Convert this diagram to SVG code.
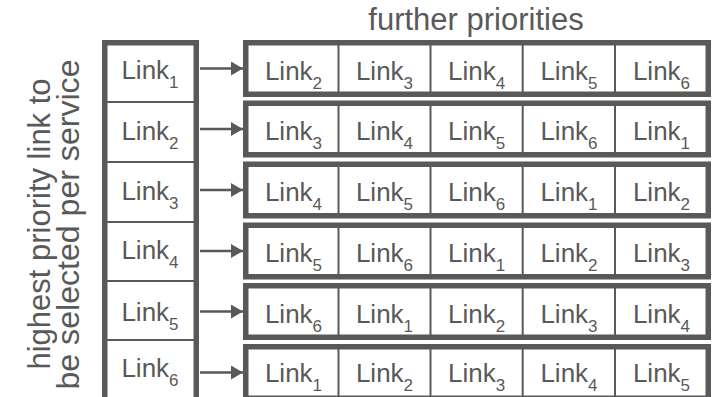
<svg xmlns="http://www.w3.org/2000/svg" width="716" height="397" viewBox="0 0 716 397">
  <style>
    .frame { fill: #ffffff; stroke: #595959; stroke-width: 5.5; }
    .div { stroke: #595959; stroke-width: 2; }
    .lbl { font-family: "Liberation Sans", Arial, sans-serif; font-size: 26px; fill: #595959; text-anchor: middle; }
    .sub { font-size: 17px; }
    .cap { font-family: "Liberation Sans", Arial, sans-serif; font-size: 31px; fill: #595959; text-anchor: middle; }
    .arrow { stroke: #595959; stroke-width: 2.5; fill: none; }
  </style>
  <defs>
    <marker id="head" markerUnits="userSpaceOnUse" markerWidth="13" markerHeight="15" refX="12" refY="7" orient="auto">
      <path d="M0,0 L12,7 L0,14 Z" fill="#595959"/>
    </marker>
  </defs>

  <rect width="716" height="397" fill="#ffffff"/>

  <!-- axis captions -->
  <g id="captions">
    <text class="cap" x="476" y="30">further priorities</text>
    <text class="cap" transform="translate(50,224) rotate(-90)">highest priority link to</text>
    <text class="cap" transform="translate(79,224.5) rotate(-90)" textLength="330" lengthAdjust="spacingAndGlyphs">be selected per service</text>
  </g>

  <!-- first-choice column -->
  <g id="first-choice">
    <rect class="frame" x="104.75" y="42.75" width="91.5" height="360"/>
    <line class="div" x1="107" y1="102" x2="194" y2="102"/>
    <line class="div" x1="107" y1="162" x2="194" y2="162"/>
    <line class="div" x1="107" y1="222" x2="194" y2="222"/>
    <line class="div" x1="107" y1="281" x2="194" y2="281"/>
    <line class="div" x1="107" y1="340" x2="194" y2="340"/>
    <text class="lbl" x="150" y="79">Link<tspan class="sub" dy="9">1</tspan></text>
    <text class="lbl" x="150" y="140">Link<tspan class="sub" dy="9">2</tspan></text>
    <text class="lbl" x="150" y="200">Link<tspan class="sub" dy="9">3</tspan></text>
    <text class="lbl" x="150" y="259">Link<tspan class="sub" dy="9">4</tspan></text>
    <text class="lbl" x="150" y="321">Link<tspan class="sub" dy="9">5</tspan></text>
    <text class="lbl" x="150" y="377">Link<tspan class="sub" dy="9">6</tspan></text>
  </g>

  <!-- connectors -->
  <g id="connectors">
    <line class="arrow" x1="200" y1="68.5" x2="243" y2="68.5" marker-end="url(#head)"/>
    <line class="arrow" x1="200" y1="129" x2="243" y2="129" marker-end="url(#head)"/>
    <line class="arrow" x1="200" y1="190" x2="243" y2="190" marker-end="url(#head)"/>
    <line class="arrow" x1="200" y1="251" x2="243" y2="251" marker-end="url(#head)"/>
    <line class="arrow" x1="200" y1="311.5" x2="243" y2="311.5" marker-end="url(#head)"/>
    <line class="arrow" x1="200" y1="372.5" x2="243" y2="372.5" marker-end="url(#head)"/>
  </g>

  <!-- priority rows -->
  <g id="row1">
    <rect class="frame" x="245.75" y="42.75" width="462.5" height="51.5"/>
    <line class="div" x1="338.5" y1="45" x2="338.5" y2="92"/>
    <line class="div" x1="430.5" y1="45" x2="430.5" y2="92"/>
    <line class="div" x1="522.7" y1="45" x2="522.7" y2="92"/>
    <line class="div" x1="615" y1="45" x2="615" y2="92"/>
    <text class="lbl" x="293.5" y="79.5">Link<tspan class="sub" dy="9">2</tspan></text>
    <text class="lbl" x="384.5" y="79.5">Link<tspan class="sub" dy="9">3</tspan></text>
    <text class="lbl" x="476.6" y="79.5">Link<tspan class="sub" dy="9">4</tspan></text>
    <text class="lbl" x="569" y="79.5">Link<tspan class="sub" dy="9">5</tspan></text>
    <text class="lbl" x="661.5" y="79.5">Link<tspan class="sub" dy="9">6</tspan></text>
  </g>
  <g id="row2">
    <rect class="frame" x="245.75" y="103.25" width="462.5" height="51.5"/>
    <line class="div" x1="338.5" y1="105.5" x2="338.5" y2="152.5"/>
    <line class="div" x1="430.5" y1="105.5" x2="430.5" y2="152.5"/>
    <line class="div" x1="522.7" y1="105.5" x2="522.7" y2="152.5"/>
    <line class="div" x1="615" y1="105.5" x2="615" y2="152.5"/>
    <text class="lbl" x="293.5" y="140">Link<tspan class="sub" dy="9">3</tspan></text>
    <text class="lbl" x="384.5" y="140">Link<tspan class="sub" dy="9">4</tspan></text>
    <text class="lbl" x="476.6" y="140">Link<tspan class="sub" dy="9">5</tspan></text>
    <text class="lbl" x="569" y="140">Link<tspan class="sub" dy="9">6</tspan></text>
    <text class="lbl" x="661.5" y="140">Link<tspan class="sub" dy="9">1</tspan></text>
  </g>
  <g id="row3">
    <rect class="frame" x="245.75" y="164.25" width="462.5" height="51.5"/>
    <line class="div" x1="338.5" y1="166.5" x2="338.5" y2="213.5"/>
    <line class="div" x1="430.5" y1="166.5" x2="430.5" y2="213.5"/>
    <line class="div" x1="522.7" y1="166.5" x2="522.7" y2="213.5"/>
    <line class="div" x1="615" y1="166.5" x2="615" y2="213.5"/>
    <text class="lbl" x="293.5" y="201">Link<tspan class="sub" dy="9">4</tspan></text>
    <text class="lbl" x="384.5" y="201">Link<tspan class="sub" dy="9">5</tspan></text>
    <text class="lbl" x="476.6" y="201">Link<tspan class="sub" dy="9">6</tspan></text>
    <text class="lbl" x="569" y="201">Link<tspan class="sub" dy="9">1</tspan></text>
    <text class="lbl" x="661.5" y="201">Link<tspan class="sub" dy="9">2</tspan></text>
  </g>
  <g id="row4">
    <rect class="frame" x="245.75" y="225.25" width="462.5" height="51.5"/>
    <line class="div" x1="338.5" y1="227.5" x2="338.5" y2="274.5"/>
    <line class="div" x1="430.5" y1="227.5" x2="430.5" y2="274.5"/>
    <line class="div" x1="522.7" y1="227.5" x2="522.7" y2="274.5"/>
    <line class="div" x1="615" y1="227.5" x2="615" y2="274.5"/>
    <text class="lbl" x="293.5" y="262">Link<tspan class="sub" dy="9">5</tspan></text>
    <text class="lbl" x="384.5" y="262">Link<tspan class="sub" dy="9">6</tspan></text>
    <text class="lbl" x="476.6" y="262">Link<tspan class="sub" dy="9">1</tspan></text>
    <text class="lbl" x="569" y="262">Link<tspan class="sub" dy="9">2</tspan></text>
    <text class="lbl" x="661.5" y="262">Link<tspan class="sub" dy="9">3</tspan></text>
  </g>
  <g id="row5">
    <rect class="frame" x="245.75" y="285.75" width="462.5" height="51.5"/>
    <line class="div" x1="338.5" y1="288" x2="338.5" y2="335"/>
    <line class="div" x1="430.5" y1="288" x2="430.5" y2="335"/>
    <line class="div" x1="522.7" y1="288" x2="522.7" y2="335"/>
    <line class="div" x1="615" y1="288" x2="615" y2="335"/>
    <text class="lbl" x="293.5" y="322.5">Link<tspan class="sub" dy="9">6</tspan></text>
    <text class="lbl" x="384.5" y="322.5">Link<tspan class="sub" dy="9">1</tspan></text>
    <text class="lbl" x="476.6" y="322.5">Link<tspan class="sub" dy="9">2</tspan></text>
    <text class="lbl" x="569" y="322.5">Link<tspan class="sub" dy="9">3</tspan></text>
    <text class="lbl" x="661.5" y="322.5">Link<tspan class="sub" dy="9">4</tspan></text>
  </g>
  <g id="row6">
    <rect class="frame" x="245.75" y="346.75" width="462.5" height="51.5"/>
    <line class="div" x1="338.5" y1="349" x2="338.5" y2="396"/>
    <line class="div" x1="430.5" y1="349" x2="430.5" y2="396"/>
    <line class="div" x1="522.7" y1="349" x2="522.7" y2="396"/>
    <line class="div" x1="615" y1="349" x2="615" y2="396"/>
    <text class="lbl" x="293.5" y="382">Link<tspan class="sub" dy="9">1</tspan></text>
    <text class="lbl" x="384.5" y="382">Link<tspan class="sub" dy="9">2</tspan></text>
    <text class="lbl" x="476.6" y="382">Link<tspan class="sub" dy="9">3</tspan></text>
    <text class="lbl" x="569" y="382">Link<tspan class="sub" dy="9">4</tspan></text>
    <text class="lbl" x="661.5" y="382">Link<tspan class="sub" dy="9">5</tspan></text>
  </g>
</svg>
